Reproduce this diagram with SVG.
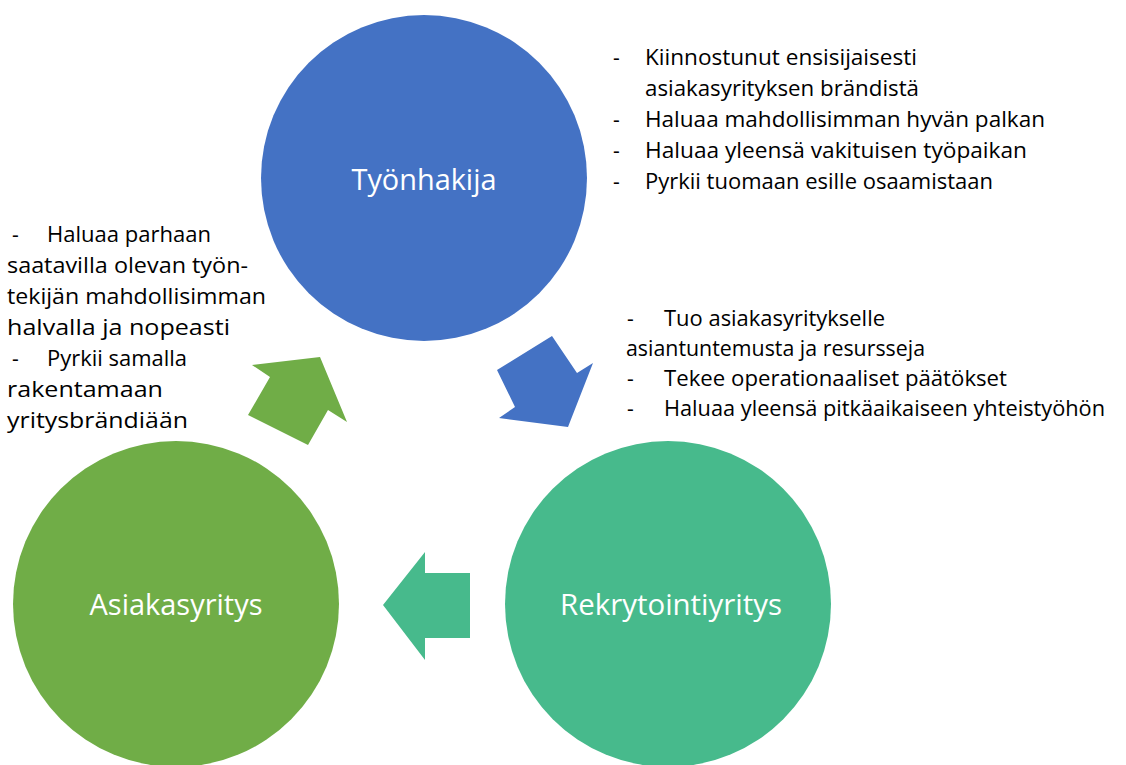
<svg xmlns="http://www.w3.org/2000/svg" width="1126" height="765" viewBox="0 0 1126 765">
<style>
.lbl{font-family:"Open Sans","Liberation Sans",sans-serif;font-size:29px;fill:#ffffff;text-anchor:middle}
.txt{font-family:"Open Sans","Liberation Sans",sans-serif;font-size:21px;fill:#000000}
</style>
<rect width="1126" height="765" fill="#ffffff"/>
<g id="connectors">
<polygon points="497,370 552,336 577,373 593,363 568,427 499,418 515,407" fill="#4472C4"/>
<polygon points="383,605 425,552 425,573 470,573 470,638 425,638 425,660" fill="#47BA8C"/>
<polygon points="252,365 320,357 347,422 328,410 308,445 248,415 270,377" fill="#70AD47"/>
</g>
<g id="tyonhakija">
<circle cx="424" cy="178" r="163" fill="#4472C4"/>
<text class="lbl" x="424" y="190" textLength="145" lengthAdjust="spacingAndGlyphs">Työnhakija</text>
</g>
<g id="rekrytointiyritys">
<circle cx="668" cy="604" r="163" fill="#47BA8C"/>
<text class="lbl" x="671" y="615" textLength="222" lengthAdjust="spacingAndGlyphs">Rekrytointiyritys</text>
</g>
<g id="asiakasyritys">
<circle cx="176" cy="604" r="163" fill="#70AD47"/>
<text class="lbl" x="176" y="615" textLength="173" lengthAdjust="spacingAndGlyphs">Asiakasyritys</text>
</g>
<g id="notes-tyonhakija">
<text class="txt" x="613" y="65">-</text>
<text class="txt" x="645" y="65" textLength="272" lengthAdjust="spacingAndGlyphs">Kiinnostunut ensisijaisesti</text>
<text class="txt" x="645" y="96" textLength="274" lengthAdjust="spacingAndGlyphs">asiakasyrityksen brändistä</text>
<text class="txt" x="613" y="127">-</text>
<text class="txt" x="645" y="127" textLength="400" lengthAdjust="spacingAndGlyphs">Haluaa mahdollisimman hyvän palkan</text>
<text class="txt" x="613" y="158">-</text>
<text class="txt" x="645" y="158" textLength="382" lengthAdjust="spacingAndGlyphs">Haluaa yleensä vakituisen työpaikan</text>
<text class="txt" x="613" y="189">-</text>
<text class="txt" x="645" y="189" textLength="348" lengthAdjust="spacingAndGlyphs">Pyrkii tuomaan esille osaamistaan</text>
</g>
<g id="notes-asiakasyritys">
<text class="txt" x="12" y="242">-</text>
<text class="txt" x="47" y="242" textLength="164" lengthAdjust="spacingAndGlyphs">Haluaa parhaan</text>
<text class="txt" x="7" y="273" textLength="241" lengthAdjust="spacingAndGlyphs">saatavilla olevan työn-</text>
<text class="txt" x="7" y="304" textLength="259" lengthAdjust="spacingAndGlyphs">tekijän mahdollisimman</text>
<text class="txt" x="7" y="335" textLength="223" lengthAdjust="spacingAndGlyphs">halvalla ja nopeasti</text>
<text class="txt" x="12" y="366">-</text>
<text class="txt" x="47" y="366" textLength="140" lengthAdjust="spacingAndGlyphs">Pyrkii samalla</text>
<text class="txt" x="7" y="397" textLength="156" lengthAdjust="spacingAndGlyphs">rakentamaan</text>
<text class="txt" x="7" y="428" textLength="181" lengthAdjust="spacingAndGlyphs">yritysbrändiään</text>
</g>
<g id="notes-rekrytointiyritys">
<text class="txt" x="627" y="326">-</text>
<text class="txt" x="664" y="326" textLength="221" lengthAdjust="spacingAndGlyphs">Tuo asiakasyritykselle</text>
<text class="txt" x="626" y="356" textLength="299" lengthAdjust="spacingAndGlyphs">asiantuntemusta ja resursseja</text>
<text class="txt" x="627" y="386">-</text>
<text class="txt" x="664" y="386" textLength="343" lengthAdjust="spacingAndGlyphs">Tekee operationaaliset päätökset</text>
<text class="txt" x="627" y="416">-</text>
<text class="txt" x="664" y="416" textLength="441" lengthAdjust="spacingAndGlyphs">Haluaa yleensä pitkäaikaiseen yhteistyöhön</text>
</g>
</svg>
